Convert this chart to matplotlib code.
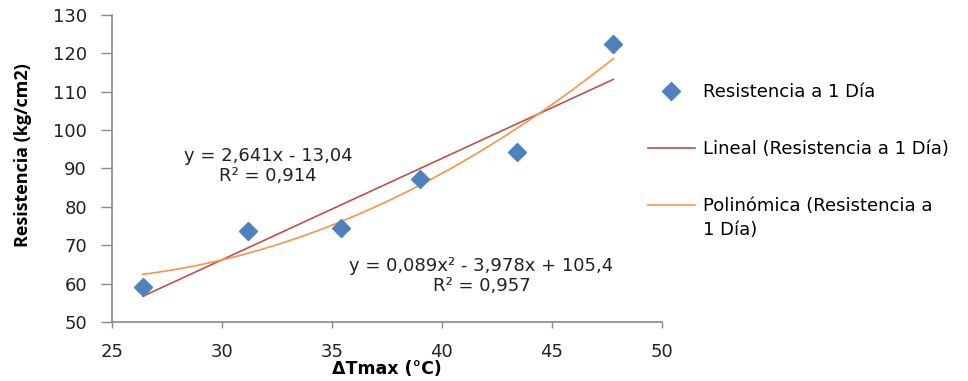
import numpy as np
import matplotlib.pyplot as plt

plt.rcParams['font.family'] = ['DejaVu Sans']

# Resistencia a 1 día vs. diferencia máxima de temperatura
dt_max = [26.4, 31.2, 35.4, 39.0, 43.4, 47.8]
resistencia = [59.2, 73.8, 74.5, 87.3, 94.3, 122.4]

# Coeficientes de las líneas de tendencia
lin_coef = [2.641, -13.04]
poly_coef = [0.089, -3.978, 105.4]
lin_text = "y = 2,641x - 13,04\nR² = 0,914"
poly_text = "y = 0,089x² - 3,978x + 105,4\nR² = 0,957"

xs = np.linspace(min(dt_max), max(dt_max), 200)

fig = plt.figure(figsize=(9.68, 3.81), dpi=100)
ax = fig.add_axes([0.1157, 0.155, 0.568, 0.806])

ax.plot(dt_max, resistencia, 'D', color='#4F81BD', markersize=9,
        markeredgecolor='#4F81BD', label='Resistencia a 1 Día', zorder=3)
ax.plot(xs, np.polyval(lin_coef, xs), color='#C0504D', lw=1.2,
        label='Lineal (Resistencia a 1 Día)')
ax.plot(xs, np.polyval(poly_coef, xs), color='#F79646', lw=1.2,
        label='Polinómica (Resistencia a')

ax.text(32.1, 90.6, lin_text, ha='center', va='center', fontsize=13,
        color='#222222', linespacing=1.1)
ax.text(41.8, 62.0, poly_text, ha='center', va='center', fontsize=13,
        color='#222222', linespacing=1.1)

ax.set_xlim(25, 50)
ax.set_ylim(50, 130)
ax.set_xticks(range(25, 51, 5))
ax.set_yticks(range(50, 131, 10))
ax.tick_params(labelsize=13, colors='#222222', width=1, color='#888888',
               direction='out')
ax.tick_params(axis='y', length=8, pad=10)
ax.tick_params(axis='x', length=4.5, pad=11)
for side in ['top', 'right']:
    ax.spines[side].set_visible(False)
for side in ['left', 'bottom']:
    ax.spines[side].set_color('#888888')
    ax.spines[side].set_linewidth(1.2)

ax.set_xlabel('ΔTmax (°C)', fontsize=12.5, fontweight='bold', labelpad=-1)
ax.set_ylabel('Resistencia (kg/cm2)', fontsize=13, fontweight='bold',
              family='Open Sans')
ax.yaxis.set_label_coords(-0.145, 0.544)

leg = ax.legend(loc='upper left', bbox_to_anchor=(648 / 968, 0.781),
                bbox_transform=fig.transFigure, frameon=False, fontsize=13,
                handlelength=2.6, handletextpad=0.45, labelspacing=2.15,
                borderpad=0, borderaxespad=0, numpoints=1)

# second line of the polynomial legend entry, under its first line
fig.canvas.draw()
bb = leg.get_texts()[2].get_window_extent()
fig.text(bb.x0 / fig.bbox.width, (bb.y0 - 6) / fig.bbox.height, '1 Día)',
         fontsize=13, ha='left', va='top')

fig.savefig('out.png', dpi=100)
